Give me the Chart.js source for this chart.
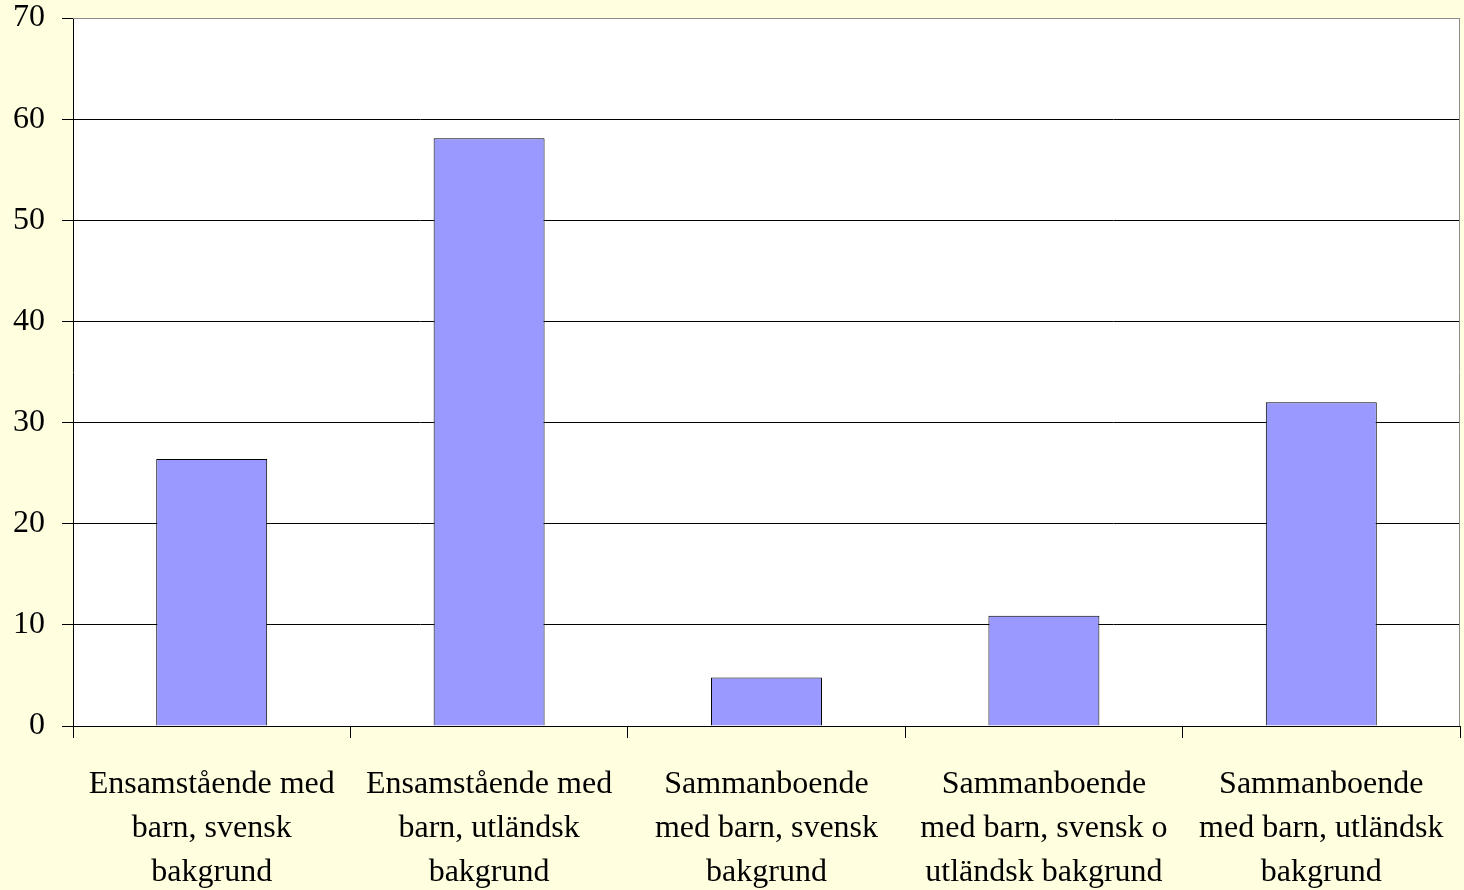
<!DOCTYPE html>
<html>
<head>
<meta charset="utf-8">
<script src="https://cdn.jsdelivr.net/npm/chart.js@4/dist/chart.umd.min.js"></script>
<style>
  html, body { margin: 0; padding: 0; background: #FFFFE0; }
  #wrap { width: 1464px; height: 890px; position: relative; }
</style>
</head>
<body>
<div id="wrap"><canvas id="chart"></canvas></div>
<script>
// categories (multi-line labels) and values
const categories = [
    ['Ensamstående med', 'barn, svensk', 'bakgrund'],
    ['Ensamstående med', 'barn, utländsk', 'bakgrund'],
    ['Sammanboende', 'med barn, svensk', 'bakgrund'],
    ['Sammanboende', 'med barn, svensk o', 'utländsk bakgrund'],
    ['Sammanboende', 'med barn, utländsk', 'bakgrund']
];
const values = [26.4, 58.1, 4.8, 10.9, 32.0];
const yMin = 0;
const yMax = 70;
const yStep = 10;

// white plot area with a grey frame, like the old office chart
const plotArea = {
    id: 'plotArea',
    beforeDraw(chart) {
        const { ctx, chartArea: a } = chart;
        ctx.save();
        ctx.fillStyle = '#ffffff';
        ctx.fillRect(a.left, a.top, a.right - a.left, a.bottom - a.top);
        ctx.restore();
    },
    afterDraw(chart) {
        const { ctx, chartArea: a } = chart;
        ctx.save();
        ctx.strokeStyle = '#8c8c8c';
        ctx.lineWidth = 1;
        ctx.beginPath();
        ctx.moveTo(a.left, a.top + 0.5);
        ctx.lineTo(a.right - 0.5, a.top + 0.5);
        ctx.lineTo(a.right - 0.5, a.bottom);
        ctx.stroke();
        ctx.restore();
    }
};

const font = { family: '"Liberation Serif", "Times New Roman", serif', size: 32 };

const chart = new Chart(document.getElementById('chart'), {
    type: 'bar',
    data: {
        labels: categories,
        datasets: [{
            data: values,
            backgroundColor: '#9999FF',
            borderColor: '#000000',
            borderWidth: 1,
            barPercentage: 0.4,
            categoryPercentage: 1.0
        }]
    },
    options: {
        responsive: true,
        maintainAspectRatio: false,
        animation: false,
        layout: { padding: { top: 18, right: 4, left: 0, bottom: 0 } },
        plugins: {
            legend: { display: false },
            tooltip: { enabled: false }
        },
        scales: {
            x: {
                afterFit: (s) => { s.height = 164; s.paddingLeft = 0; s.paddingRight = 0; },
                grid: {
                    offset: true,
                    drawOnChartArea: false,
                    drawTicks: true,
                    tickLength: 12,
                    color: '#000000'
                },
                border: { display: true, color: '#000000', width: 1 },
                ticks: {
                    color: '#000000',
                    font: { ...font, lineHeight: 1.375 },
                    padding: 25,
                    maxRotation: 0,
                    autoSkip: false
                }
            },
            y: {
                min: yMin,
                max: yMax,
                // let the top label hang over the edge, like the reference
                afterFit: (s) => { s.width = 73; s.paddingTop = 0; s.paddingBottom = 0; },
                grid: {
                    color: (c) => (c.tick && c.tick.value === yMax) ? '#8c8c8c' : '#000000',
                    tickColor: '#000000',
                    tickLength: 11,
                    lineWidth: 1
                },
                border: { display: true, color: '#000000', width: 1 },
                ticks: {
                    stepSize: yStep,
                    color: '#000000',
                    font: font,
                    padding: 17
                }
            }
        }
    },
    plugins: [plotArea]
});
</script>
</body>
</html>
